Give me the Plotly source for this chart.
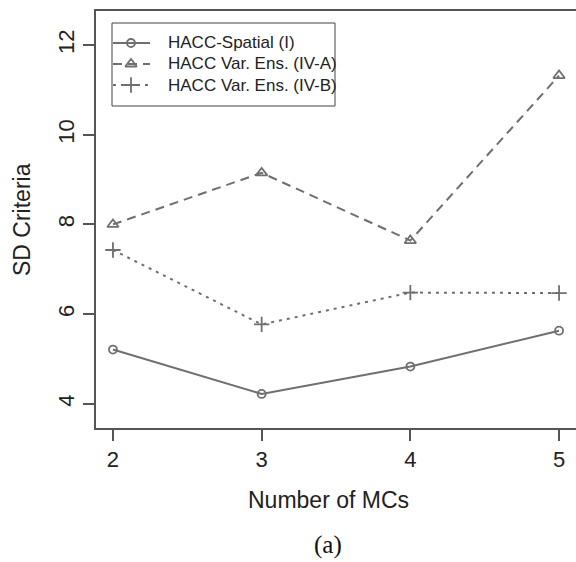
import plotly.graph_objects as go

mcs = [2, 3, 4, 5]
spatial_I = [5.21, 4.22, 4.83, 5.63]
var_ens_IVA = [8.00, 9.15, 7.64, 11.32]
var_ens_IVB = [7.43, 5.77, 6.48, 6.47]
series_names = ["HACC-Spatial (I)", "HACC Var. Ens. (IV-A)", "HACC Var. Ens. (IV-B)"]
y_ticks = [4, 6, 8, 10, 12]
x_ticks = [2, 3, 4, 5]

W, H = 576, 562
L, R, T, B = 96, 0, 11, 134
gray = "#6f6f6f"
axc = "#555555"
txt = "#222222"

styles = [
    dict(dash="solid", symbol="circle-open", size=8),
    dict(dash="9px,6px", symbol="triangle-up-open", size=10),
    dict(dash="3px,5px", symbol="cross-thin-open", size=11),
]
values = [spatial_I, var_ens_IVA, var_ens_IVB]

fig = go.Figure()
for name, vals, st in zip(series_names, values, styles):
    fig.add_trace(go.Scatter(x=mcs, y=vals, name=name, mode="lines+markers", showlegend=False,
                             line=dict(color=gray, width=2, dash=st["dash"]),
                             marker=dict(symbol=st["symbol"], size=st["size"], color=gray,
                                         line=dict(width=1.8, color=gray))))

# helpers: pixel -> paper
def px_x(p):
    return (p - L) / (W - L - R)

def px_y(p):
    return (H - B - p) / (H - T - B)

# manual legend (pixel layout)
leg_box = (112, 23, 335, 106)
row_y = [43, 64, 85]
sym_x0, sym_x1, sym_xc, text_x = 113, 150, 131, 166

shapes = [dict(type="rect", xref="paper", yref="paper", x0=px_x(leg_box[0]), x1=px_x(leg_box[2]),
               y0=px_y(leg_box[3]), y1=px_y(leg_box[1]), line=dict(color="#444444", width=1),
               fillcolor="white", layer="below")]
annotations = []
for ry, name, st in zip(row_y, series_names, styles):
    shapes.append(dict(type="line", xref="paper", yref="paper", x0=px_x(sym_x0), x1=px_x(sym_x1),
                       y0=px_y(ry), y1=px_y(ry), line=dict(color=gray, width=2, dash=st["dash"])))
    annotations.append(dict(text=name, xref="paper", yref="paper", x=px_x(text_x), y=px_y(ry),
                            xanchor="left", yanchor="middle", showarrow=False,
                            font=dict(size=17, color=txt)))
    fig.add_trace(go.Scatter(x=[sym_xc], y=[ry], xaxis="x2", yaxis="y2", mode="markers", showlegend=False,
                             hoverinfo="skip", cliponaxis=False,
                             marker=dict(symbol=st["symbol"], size=st["size"], color=gray,
                                         line=dict(width=1.8, color=gray))))

annotations += [
    dict(text="Number of MCs", xref="paper", yref="paper", x=px_x(328), y=px_y(500),
         xanchor="center", yanchor="middle", showarrow=False, font=dict(size=23, color=txt)),
    dict(text="SD Criteria", xref="paper", yref="paper", x=px_x(22), y=px_y(220),
         xanchor="center", yanchor="middle", textangle=-90, showarrow=False, font=dict(size=23, color=txt)),
    dict(text="(a)", xref="paper", yref="paper", x=px_x(328), y=px_y(545),
         xanchor="center", yanchor="middle", showarrow=False,
         font=dict(size=25, color="#111111", family="Liberation Serif, Times New Roman, serif")),
]

fig.update_layout(
    width=W, height=H,
    margin=dict(l=L, r=R, t=T, b=B),
    plot_bgcolor="white", paper_bgcolor="white",
    font=dict(family="Liberation Sans, Arial, sans-serif", color=txt),
    showlegend=False,
    xaxis=dict(range=[1.886, 5.114], tickvals=x_ticks, ticktext=[str(v) for v in x_ticks],
               showgrid=False, zeroline=False, showline=True, mirror=True, linecolor=axc, linewidth=1.5,
               ticks="outside", ticklen=11, tickcolor=axc, tickwidth=1.5,
               tickfont=dict(size=22, color=txt)),
    yaxis=dict(range=[3.46, 12.76], tickvals=y_ticks, ticktext=[str(v) for v in y_ticks],
               showgrid=False, zeroline=False, showline=True, mirror=False, linecolor=axc, linewidth=1.5,
               ticks="outside", ticklen=11, tickcolor=axc, tickwidth=1.5, tickangle=-90,
               tickfont=dict(size=22, color=txt)),
    xaxis2=dict(overlaying="x", range=[L, W - R], visible=False, fixedrange=True),
    yaxis2=dict(overlaying="y", range=[H - B, T], visible=False, fixedrange=True),
    shapes=shapes,
    annotations=annotations,
)

fig.write_html("out.html", config={"displayModeBar": False},
               post_script="document.body.style.margin='0';document.body.style.overflow='hidden';")
